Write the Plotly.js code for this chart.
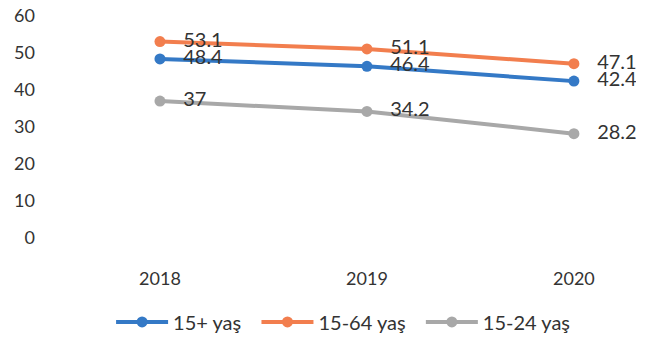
<!DOCTYPE html>
<html><head><meta charset="utf-8">
<script src="https://cdn.plot.ly/plotly-3.0.1.min.js"></script>
<style>html,body{margin:0;padding:0;background:#fff}#c{width:656px;height:344px}</style>
</head><body><div id="c"></div>
<script>
const years = ['2018','2019','2020'];
const s15plus = [48.4, 46.4, 42.4];
const s1564 = [53.1, 51.1, 47.1];
const s1524 = [37, 34.2, 28.2];
const names = ['15+ yaş','15-64 yaş','15-24 yaş'];
const colors = ['#3479C6','#F27E4E','#A8A8A8'];
const series = [s15plus, s1564, s1524];
const font = 'Lato, "Open Sans", sans-serif';
const pad = '\u00A0\u00A0\u00A0';
const traces = series.map((v,i)=>({
  x: years, y: v, type:'scatter', mode:'lines+markers+text',
  name: names[i] + (i < series.length-1 ? '\u00A0\u00A0' : ''),
  text: v.map(n=>pad+String(n)), textposition:'middle right',
  textfont:{family:font,size:20,color:'#333333'},
  line:{color:colors[i],width:4}, marker:{color:colors[i],size:11}
}));
const layout = {
  width:656, height:344, margin:{l:42,r:20,t:16,b:106},
  paper_bgcolor:'#fff', plot_bgcolor:'#fff',
  font:{family:font,color:'#333333'},
  xaxis:{type:'category', range:[-0.57,2.3], showgrid:false, zeroline:false, showline:false,
    automargin:false, ticks:'', ticklabelstandoff:28, tickfont:{size:18,color:'#333333'}},
  yaxis:{range:[0,60], dtick:10, showgrid:false, zeroline:false, showline:false,
    automargin:false, ticks:'', ticklabelstandoff:6, tickfont:{size:18,color:'#333333'}},
  showlegend:true,
  legend:{orientation:'h', xref:'container', x:0.523, xanchor:'center',
    yref:'container', y:0.064, yanchor:'middle',
    font:{size:20,color:'#333333'}, itemwidth:52, traceorder:'normal'}
};
Plotly.newPlot('c', traces, layout, {displayModeBar:false, staticPlot:true});
</script></body></html>
